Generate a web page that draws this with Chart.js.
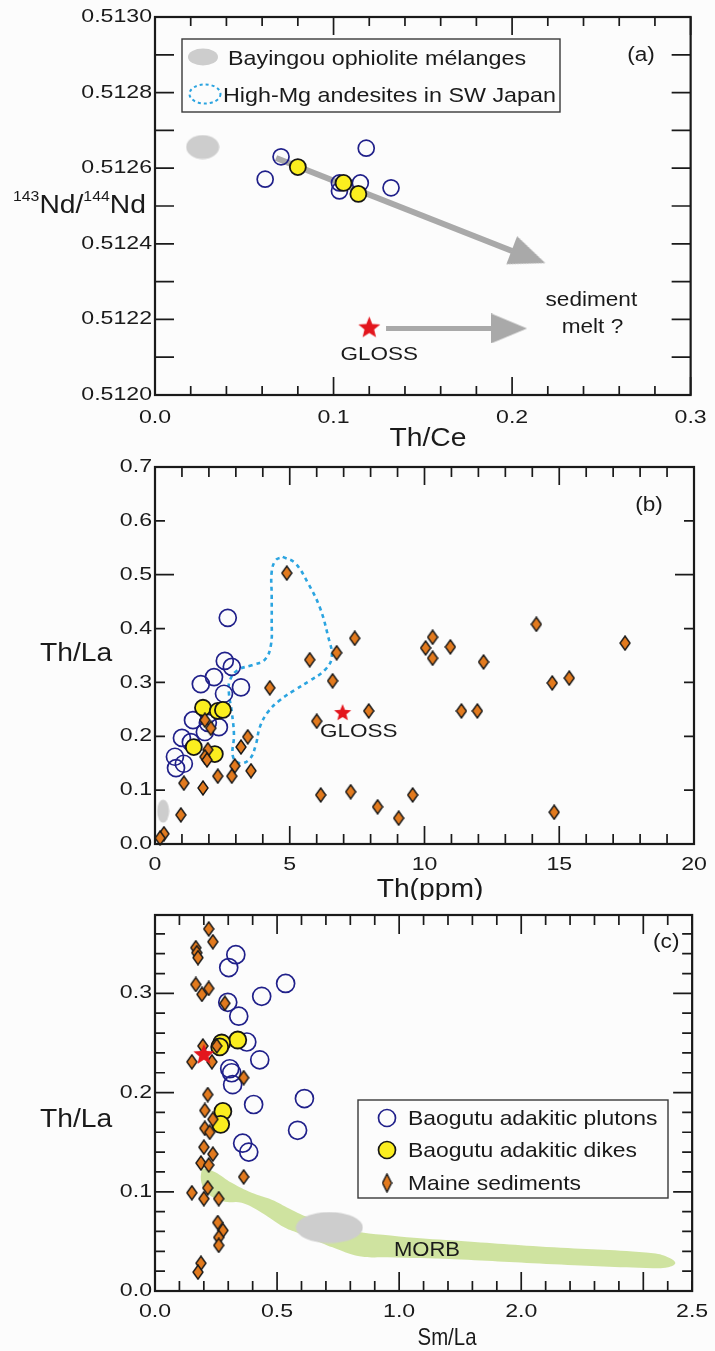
<!DOCTYPE html>
<html>
<head>
<meta charset="utf-8">
<script src="https://cdn.jsdelivr.net/npm/chart.js@4.4.1/dist/chart.umd.min.js"></script>
<style>
html, body { margin: 0; padding: 0; background: #fcfcfc; }
#wrap { position: relative; width: 715px; height: 1351px; overflow: hidden; }
canvas { position: absolute; left: 0; }
</style>
</head>
<body>
<div id="wrap">
  <canvas id="ca" width="715" height="450" style="top:0px"></canvas>
  <canvas id="cb" width="715" height="450" style="top:450px"></canvas>
  <canvas id="cc" width="715" height="451" style="top:900px"></canvas>
</div>
<script>
// ---------------- DATA ----------------
// Panel (a): 143Nd/144Nd vs Th/Ce
const aTickX = [0, 0.1, 0.2, 0.3];
const aTickXLabels = ['0.0', '0.1', '0.2', '0.3'];
const aTickY = [0.5120, 0.5122, 0.5124, 0.5126, 0.5128, 0.5130];
const aTickYLabels = ['0.5120', '0.5122', '0.5124', '0.5126', '0.5128', '0.5130'];
const aPlutons = [[0.0706, 0.51263], [0.0617, 0.512571], [0.1183, 0.512653], [0.1033, 0.512561],
                  [0.1033, 0.51254], [0.115, 0.512561], [0.1322, 0.512548]];
const aDikes = [[0.080, 0.512603], [0.1056, 0.512561], [0.1139, 0.512532]];
const aGloss = [[0.120, 0.51218]];
const aOphiolite = [[0.0267, 0.512656]];
const aTrendShaft = [[0.0678, 0.512627], [0.200, 0.512381]];
const aTrendHead = [[0.2092, 0.512366]];
const aGlossShaft = [[0.1294, 0.512176], [0.1917, 0.512176]];
const aGlossHead = [[0.1983, 0.512176]];

// Panel (b): Th/La vs Th(ppm)
const bTickX = [0, 5, 10, 15, 20];
const bTickXLabels = ['0', '5', '10', '15', '20'];
const bTickY = [0, 0.1, 0.2, 0.3, 0.4, 0.5, 0.6, 0.7];
const bTickYLabels = ['0.0', '0.1', '0.2', '0.3', '0.4', '0.5', '0.6', '0.7'];
const bPlutons = [[2.70, 0.420], [2.59, 0.340], [2.85, 0.329], [2.19, 0.310], [1.70, 0.297], [3.19, 0.291],
                  [2.56, 0.279], [1.41, 0.230], [1.96, 0.225], [2.37, 0.217], [1.85, 0.208], [1.00, 0.197],
                  [1.33, 0.189], [0.74, 0.162], [1.07, 0.149], [0.78, 0.141]];
const bDikes = [[1.78, 0.253], [2.33, 0.247], [2.52, 0.249], [1.44, 0.180], [2.22, 0.167]];
const bSediments = [[4.89, 0.503], [5.74, 0.342], [6.74, 0.355], [7.41, 0.382], [4.26, 0.290], [6.59, 0.303],
                    [6.00, 0.228], [6.15, 0.091], [7.26, 0.097], [8.26, 0.069], [9.04, 0.048], [9.56, 0.091],
                    [7.93, 0.247], [10.04, 0.364], [10.30, 0.384], [10.30, 0.345], [10.96, 0.366], [12.19, 0.338],
                    [11.37, 0.247], [11.96, 0.247], [14.15, 0.408], [14.74, 0.299], [15.37, 0.308], [14.81, 0.059],
                    [17.44, 0.373], [1.85, 0.230], [2.07, 0.215], [3.44, 0.199], [3.19, 0.180], [1.96, 0.175],
                    [1.85, 0.162], [1.93, 0.156], [2.96, 0.145], [3.56, 0.136], [2.85, 0.126], [2.33, 0.126],
                    [1.07, 0.113], [1.78, 0.104], [0.96, 0.054], [0.33, 0.019], [0.19, 0.011]];
const bGloss = [[6.96, 0.245]];
const bOphiolite = [[0.30, 0.061]];
const bJapanField = [[4.74, 0.533], [5.19, 0.522], [5.67, 0.485], [6.11, 0.440], [6.41, 0.388], [6.56, 0.347],
                     [6.30, 0.323], [5.74, 0.303], [5.19, 0.286], [4.63, 0.267], [4.19, 0.245], [3.89, 0.217],
                     [3.74, 0.184], [3.52, 0.158], [3.15, 0.150], [2.89, 0.163], [2.93, 0.202], [2.85, 0.245],
                     [2.74, 0.282], [2.78, 0.304], [3.07, 0.323], [3.59, 0.332], [4.07, 0.342], [4.30, 0.369],
                     [4.33, 0.416], [4.33, 0.462], [4.33, 0.505], [4.48, 0.527], [4.74, 0.533]];

// Panel (c): Th/La vs Sm/La (axis labels as printed in the figure)
const cTickX = [0, 0.5, 1.0, 1.5, 2.2];
const cTickXLabels = ['0.0', '0.5', '1.0', '2.0', '2.5'];
const cTickY = [0, 0.1, 0.2, 0.3];
const cTickYLabels = ['0.0', '0.1', '0.2', '0.3'];
const cPlutons = [[0.331, 0.339], [0.302, 0.326], [0.535, 0.310], [0.437, 0.297], [0.298, 0.291], [0.343, 0.277],
                  [0.376, 0.251], [0.429, 0.233], [0.306, 0.224], [0.314, 0.220], [0.318, 0.208], [0.404, 0.188],
                  [0.612, 0.194], [0.584, 0.162], [0.359, 0.149], [0.384, 0.140]];
const cDikes = [[0.339, 0.253], [0.273, 0.250], [0.265, 0.246], [0.278, 0.181], [0.269, 0.168]];
const cSediments = [[0.220, 0.365], [0.237, 0.352], [0.167, 0.346], [0.171, 0.341], [0.176, 0.336], [0.167, 0.309],
                    [0.192, 0.299], [0.220, 0.305], [0.286, 0.290], [0.196, 0.247], [0.253, 0.247], [0.151, 0.231],
                    [0.233, 0.231], [0.363, 0.215], [0.216, 0.198], [0.204, 0.182], [0.237, 0.173], [0.204, 0.164],
                    [0.224, 0.160], [0.200, 0.145], [0.237, 0.138], [0.188, 0.129], [0.220, 0.127], [0.363, 0.115],
                    [0.151, 0.099], [0.216, 0.104], [0.200, 0.093], [0.261, 0.093], [0.257, 0.069], [0.278, 0.061],
                    [0.261, 0.054], [0.261, 0.046], [0.188, 0.028], [0.176, 0.019]];
const cGloss = [[0.200, 0.239]];
const cOphiolite = [[0.714, 0.064]];
const cMorbField = [[0.192, 0.124], [0.245, 0.120], [0.314, 0.109], [0.396, 0.099], [0.478, 0.092], [0.551, 0.083],
                    [0.620, 0.075], [0.755, 0.063], [1.000, 0.055], [1.224, 0.051], [1.633, 0.044], [2.041, 0.038],
                    [2.110, 0.033], [2.131, 0.028], [2.102, 0.024], [2.041, 0.023], [1.633, 0.027], [1.224, 0.032],
                    [0.951, 0.034], [0.837, 0.035], [0.727, 0.044], [0.650, 0.052], [0.592, 0.058], [0.531, 0.064],
                    [0.437, 0.079], [0.355, 0.089], [0.286, 0.090], [0.233, 0.095], [0.204, 0.102], [0.188, 0.112],
                    [0.192, 0.124]];

// ---------------- STYLE ----------------
const FONT = "'Liberation Sans', Arial, Helvetica, sans-serif";
const INK = '#1a1a1a';
const NAVY = '#20208a';
const YELLOW = '#fbee1f';
const ORANGE = '#e27a1e';
const RED = '#e3161d';
const GRAY = '#cdcdcd';
const ARROW = '#a9a9a9';
const SKY = '#2ba4e0';
const MORB_GREEN = '#cfe3a0';

function makeCanvas(w, h, draw) {
  const c = document.createElement('canvas');
  c.width = w; c.height = h;
  draw(c.getContext('2d'), w, h);
  return c;
}
function diamondImg(w, h) {
  return makeCanvas(w, h, (g) => {
    g.beginPath();
    g.moveTo(w / 2, 1); g.lineTo(w - 1, h / 2); g.lineTo(w / 2, h - 1); g.lineTo(1, h / 2); g.closePath();
    g.fillStyle = ORANGE; g.fill();
    g.lineWidth = 1.4; g.strokeStyle = '#161616'; g.stroke();
  });
}
function starImg(R) {
  const s = Math.ceil(R * 2 + 2);
  return makeCanvas(s, s, (g) => {
    g.beginPath();
    for (let i = 0; i < 10; i++) {
      const r = i % 2 ? R * 0.44 : R;
      const ang = -Math.PI / 2 + i * Math.PI / 5;
      g.lineTo(s / 2 + r * Math.cos(ang), s / 2 + 1 + r * Math.sin(ang));
    }
    g.closePath(); g.fillStyle = RED; g.fill();
  });
}
function ellipseImg(w, h) {
  return makeCanvas(w, h, (g) => {
    g.beginPath(); g.ellipse(w / 2, h / 2, w / 2 - 0.5, h / 2 - 0.5, 0, 0, Math.PI * 2);
    g.fillStyle = GRAY; g.fill();
  });
}
function arrowHeadImg(w, h) {
  return makeCanvas(w, h, (g) => {
    g.beginPath(); g.moveTo(w / 2, 0); g.lineTo(w, h); g.lineTo(0, h); g.closePath();
    g.fillStyle = ARROW; g.fill();
  });
}
const DIAMOND = diamondImg(12, 16);
const DIAMOND_LEGEND = diamondImg(11, 20);
const HEAD = arrowHeadImg(30, 36);

// ---------------- TEXT HELPERS ----------------
function patchText(ctx) {
  if (ctx.__orig) return;
  const orig = ctx.fillText;
  ctx.__orig = orig;
  ctx.fillText = function (t, x, y) {
    const m = /([\d.]+)px/.exec(this.font);
    const sz = m ? +m[1] : 12;
    const sx = sz < 19.5 ? 1.25 : 1.13;
    this.save(); this.translate(x, y); this.scale(sx, 1);
    orig.call(this, t, 0, 0);
    this.restore();
  };
}
function txt(ctx, t, x, y, size, sx, align, base) {
  ctx.save();
  ctx.font = size + 'px ' + FONT;
  ctx.fillStyle = INK;
  ctx.textAlign = align || 'left';
  ctx.textBaseline = base || 'alphabetic';
  ctx.translate(x, y); ctx.scale(sx, 1);
  ctx.__orig.call(ctx, t, 0, 0);
  ctx.restore();
}
function textWidth(ctx, t, size, sx) {
  ctx.save(); ctx.font = size + 'px ' + FONT;
  const w = ctx.measureText(t).width * sx;
  ctx.restore();
  return w;
}

// ---------------- DECOR PLUGIN (frame, inward ticks, titles, notes, legends) ----------------
function decor(spec) {
  return {
    id: 'decor',
    beforeInit(chart) { patchText(chart.ctx); },
    afterDraw(chart) {
      const { ctx, chartArea: a } = chart;
      const xs = chart.scales.x, ys = chart.scales.y;
      ctx.save();
      ctx.strokeStyle = INK;
      ctx.lineWidth = 1.7;
      ctx.beginPath();
      for (const t of spec.xTicks) {
        const n = Math.floor((t.max - t.min) / t.step + 1e-6);
        for (let i = 0; i <= n; i++) {
          const px = xs.getPixelForValue(t.min + i * t.step);
          ctx.moveTo(px, a.bottom); ctx.lineTo(px, a.bottom - t.len);
          ctx.moveTo(px, a.top); ctx.lineTo(px, a.top + t.len);
        }
      }
      for (const t of spec.yTicks) {
        const n = Math.floor((t.max - t.min) / t.step + 1e-6);
        for (let i = 0; i <= n; i++) {
          const py = ys.getPixelForValue(t.min + i * t.step);
          ctx.moveTo(a.left, py); ctx.lineTo(a.left + t.len, py);
          ctx.moveTo(a.right, py); ctx.lineTo(a.right - t.len, py);
        }
      }
      ctx.stroke();
      ctx.lineWidth = 2.2;
      ctx.strokeRect(a.left, a.top, a.right - a.left, a.bottom - a.top);

      // x title
      const xt = spec.xTitle;
      txt(ctx, xt.text, a.left + xt.dx, a.bottom + xt.dy, xt.size, xt.sx, 'center');
      // y title (may contain superscripts)
      const yt = spec.yTitle;
      let cx = a.left + yt.dx;
      for (const p of yt.parts) {
        const size = p.sup ? yt.supSize : yt.size;
        const by = a.top + yt.dy - (p.sup ? yt.supRise : 0);
        txt(ctx, p.t, cx, by, size, yt.sx, 'left');
        cx += textWidth(ctx, p.t, size, yt.sx);
      }
      // notes placed at data coordinates
      for (const nt of spec.notes) {
        txt(ctx, nt.text, xs.getPixelForValue(nt.x), ys.getPixelForValue(nt.y), nt.size, nt.sx, 'center', 'middle');
      }
      if (spec.legend) spec.legend(ctx, a);
      ctx.restore();
    }
  };
}

function legendA(ctx, a) {
  const L = a.left, T = a.top;
  ctx.save();
  ctx.lineWidth = 1.4; ctx.strokeStyle = '#3a3a3a';
  ctx.strokeRect(L + 27, T + 22, 378, 73);
  ctx.fillStyle = GRAY;
  ctx.beginPath(); ctx.ellipse(L + 48, T + 40, 15, 8.5, 0, 0, Math.PI * 2); ctx.fill();
  ctx.setLineDash([3, 3]); ctx.strokeStyle = SKY; ctx.lineWidth = 2;
  ctx.beginPath(); ctx.ellipse(L + 50, T + 77, 15.5, 9.5, 0, 0, Math.PI * 2); ctx.stroke();
  ctx.setLineDash([]);
  ctx.restore();
  txt(ctx, 'Bayingou ophiolite mélanges', L + 73, T + 48, 21, 1.11);
  txt(ctx, 'High-Mg andesites in SW Japan', L + 68, T + 85, 21, 1.11);
}
function legendC(ctx, a) {
  const L = a.left, T = a.top;
  ctx.save();
  ctx.lineWidth = 1.4; ctx.strokeStyle = '#3a3a3a';
  ctx.strokeRect(L + 203, T + 185, 310, 98);
  ctx.lineWidth = 1.7;
  ctx.strokeStyle = NAVY;
  ctx.beginPath(); ctx.arc(L + 232, T + 203, 8.5, 0, Math.PI * 2); ctx.stroke();
  ctx.fillStyle = YELLOW; ctx.strokeStyle = '#161616';
  ctx.beginPath(); ctx.arc(L + 232, T + 235, 8.5, 0, Math.PI * 2); ctx.fill(); ctx.stroke();
  ctx.drawImage(DIAMOND_LEGEND, L + 232 - DIAMOND_LEGEND.width / 2, T + 268 - DIAMOND_LEGEND.height / 2);
  ctx.restore();
  txt(ctx, 'Baogutu adakitic plutons', L + 253, T + 210, 21, 1.09);
  txt(ctx, 'Baogutu adakitic dikes', L + 253, T + 242, 21, 1.09);
  txt(ctx, 'Maine sediments', L + 253, T + 275, 21, 1.09);
}

// ---------------- CHART HELPERS ----------------
const pts = (arr) => arr.map(([x, y]) => ({ x, y }));

function axis(pos, min, max, vals, labels, fit, pad) {
  return {
    type: 'linear', position: pos, min, max,
    grid: { display: false, drawTicks: false },
    border: { display: false },
    afterBuildTicks: (s) => { s.ticks = vals.map((v) => ({ value: v })); },
    afterFit: (s) => { if (pos === 'bottom') s.height = fit; else s.width = fit; },
    ticks: {
      autoSkip: false, maxRotation: 0, minRotation: 0, padding: pad, color: INK,
      font: { family: FONT, size: 18.5 },
      callback: (v, i) => labels[i]
    }
  };
}
function plutonDS(arr, r) {
  return { label: 'Baogutu adakitic plutons', data: pts(arr), pointStyle: 'circle', pointRadius: r,
    pointBorderWidth: 1.7, pointBorderColor: NAVY, pointBackgroundColor: 'rgba(0,0,0,0)', clip: false };
}
function dikeDS(arr, r) {
  return { label: 'Baogutu adakitic dikes', data: pts(arr), pointStyle: 'circle', pointRadius: r,
    pointBorderWidth: 1.8, pointBorderColor: '#161616', pointBackgroundColor: YELLOW, clip: false };
}
function imgDS(label, arr, img, rot) {
  return { label, data: pts(arr), pointStyle: img, pointRadius: 6, pointRotation: rot || 0, clip: false };
}
function makeChart(id, padTop, xAxis, yAxis, datasets, spec) {
  return new Chart(document.getElementById(id), {
    type: 'scatter',
    data: { datasets },
    options: {
      responsive: false, animation: false, events: [],
      layout: { padding: { top: padTop, right: 21, left: 0, bottom: 0 } },
      plugins: { legend: { display: false }, tooltip: { enabled: false } },
      scales: { x: xAxis, y: yAxis }
    },
    plugins: [decor(spec)]
  });
}

// ---------------- PANEL (a) ----------------
makeChart('ca', 17,
  axis('bottom', 0, 0.3, aTickX, aTickXLabels, 55, 11.5),
  axis('left', 0.512, 0.513, aTickY, aTickYLabels, 155, 3),
  [
    imgDS('GLOSS', aGloss, starImg(11.5)),
    dikeDS(aDikes, 8),
    plutonDS(aPlutons, 8),
    imgDS('trend head', aTrendHead, HEAD, 111),
    imgDS('GLOSS head', aGlossHead, HEAD, 90),
    { type: 'line', label: 'trend', data: pts(aTrendShaft), borderColor: ARROW, borderWidth: 6, pointRadius: 0, fill: false },
    { type: 'line', label: 'GLOSS trend', data: pts(aGlossShaft), borderColor: ARROW, borderWidth: 5, pointRadius: 0, fill: false },
    imgDS('Bayingou ophiolite mélanges', aOphiolite, ellipseImg(34, 25))
  ],
  {
    xTicks: [{ min: 0, max: 0.3, step: 0.02, len: 9 }, { min: 0, max: 0.3, step: 0.1, len: 18 }],
    yTicks: [{ min: 0.512, max: 0.513, step: 0.0001, len: 19 }],
    xTitle: { text: 'Th/Ce', dx: 273, dy: 51, size: 25, sx: 1.13 },
    yTitle: { parts: [{ t: '143', sup: true }, { t: 'Nd/' }, { t: '144', sup: true }, { t: 'Nd' }],
              dx: -142, dy: 196, size: 25, supSize: 14, supRise: 12, sx: 1.13 },
    notes: [
      { text: '(a)', x: 0.2722, y: 0.512899, size: 20, sx: 1.13 },
      { text: 'sediment', x: 0.2444, y: 0.51225, size: 20, sx: 1.13 },
      { text: 'melt ?', x: 0.245, y: 0.512179, size: 20, sx: 1.13 },
      { text: 'GLOSS', x: 0.1256, y: 0.512106, size: 18, sx: 1.25 }
    ],
    legend: legendA
  });

// ---------------- PANEL (b) ----------------
makeChart('cb', 17,
  axis('bottom', 0, 20, bTickX, bTickXLabels, 56, 9.5),
  axis('left', 0, 0.7, bTickY, bTickYLabels, 155, 3),
  [
    imgDS('GLOSS', bGloss, starImg(9)),
    imgDS('Maine sediments', bSediments, DIAMOND),
    dikeDS(bDikes, 8),
    plutonDS(bPlutons, 8.5),
    { type: 'line', label: 'High-Mg andesites in SW Japan', data: pts(bJapanField), borderColor: SKY,
      borderWidth: 2.6, borderDash: [4, 4], tension: 0.4, pointRadius: 0, fill: false },
    imgDS('Bayingou ophiolite mélanges', bOphiolite, ellipseImg(13, 24))
  ],
  {
    xTicks: [{ min: 0, max: 20, step: 1, len: 10 }, { min: 0, max: 20, step: 5, len: 18 }],
    yTicks: [{ min: 0, max: 0.7, step: 0.1, len: 10 }, { min: 0, max: 0.5, step: 0.5, len: 19 }],
    xTitle: { text: 'Th(ppm)', dx: 275, dy: 53, size: 25, sx: 1.13 },
    yTitle: { parts: [{ t: 'Th/La' }], dx: -115, dy: 194, size: 25, supSize: 14, supRise: 0, sx: 1.13 },
    notes: [
      { text: '(b)', x: 18.33, y: 0.629, size: 20, sx: 1.13 },
      { text: 'GLOSS', x: 7.56, y: 0.208, size: 18, sx: 1.25 }
    ]
  });

// ---------------- PANEL (c) ----------------
makeChart('cc', 15,
  axis('bottom', 0, 2.2, cTickX, cTickXLabels, 60, 10),
  axis('left', 0, 0.379, cTickY, cTickYLabels, 155, 3),
  [
    imgDS('GLOSS', cGloss, starImg(11)),
    imgDS('Maine sediments', cSediments, DIAMOND),
    dikeDS(cDikes, 8.5),
    plutonDS(cPlutons, 9),
    imgDS('Bayingou ophiolite mélanges', cOphiolite, ellipseImg(68, 32)),
    { type: 'line', label: 'MORB', data: pts(cMorbField), borderColor: 'rgba(0,0,0,0)', borderWidth: 0,
      backgroundColor: MORB_GREEN, tension: 0.4, pointRadius: 0, fill: 'shape' }
  ],
  {
    xTicks: [{ min: 0, max: 2.2, step: 0.1, len: 10 }, { min: 0, max: 2.0, step: 0.5, len: 19 }],
    yTicks: [{ min: 0, max: 0.379, step: 0.02, len: 10 }, { min: 0, max: 0.3, step: 0.1, len: 19 }],
    xTitle: { text: 'Sm/La', dx: 292, dy: 54, size: 24, sx: 0.85 },
    yTitle: { parts: [{ t: 'Th/La' }], dx: -115, dy: 212, size: 25, supSize: 14, supRise: 0, sx: 1.13 },
    notes: [
      { text: '(c)', x: 2.094, y: 0.351, size: 20, sx: 1.13 },
      { text: 'MORB', x: 1.114, y: 0.041, size: 19.5, sx: 1.13 }
    ],
    legend: legendC
  });
</script>
</body>
</html>
